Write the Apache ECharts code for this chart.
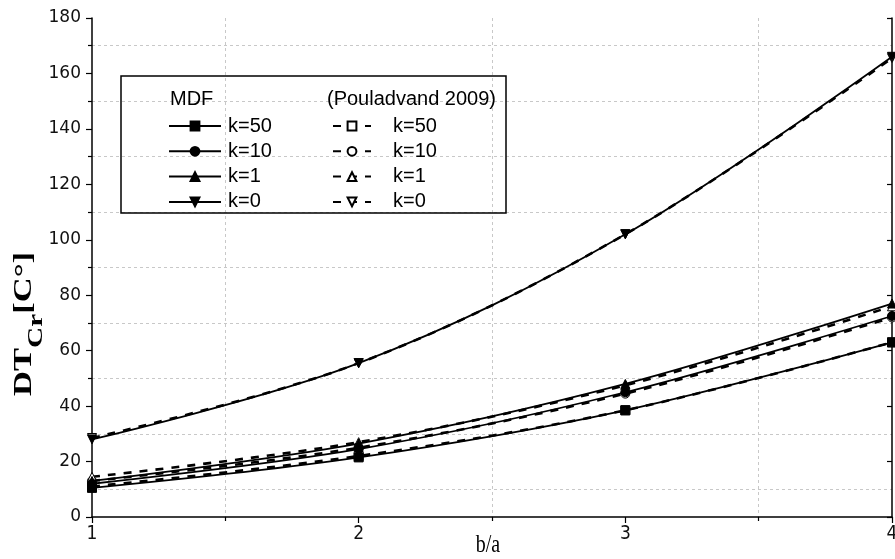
<!DOCTYPE html>
<html>
<head>
<meta charset="utf-8">
<script src="https://cdn.jsdelivr.net/npm/echarts@6/dist/echarts.min.js"></script>
<style>html,body{margin:0;padding:0;background:#fff;}#c{width:895px;height:559px;}</style>
</head>
<body>
<div id="c"></div>
<script>
// ---- data ----
var xValues = [1, 2, 3, 4];
var mdfK50 = [10.5, 21.5, 38.5, 63];
var mdfK10 = [12, 24.5, 45, 72.5];
var mdfK1  = [13, 26.5, 48, 77];
var mdfK0  = [28, 55.5, 102, 166];
var pouK50 = [11, 22, 38.5, 63];
var pouK10 = [13, 25, 44.5, 72];
var pouK1  = [14.5, 27, 47.5, 76];
var pouK0  = [28.5, 55.5, 102, 165.5];
var kLabels = ['k=50', 'k=10', 'k=1', 'k=0'];
var xTicks = [1, 2, 3, 4];
var yTicks = [0, 20, 40, 60, 80, 100, 120, 140, 160, 180];

function pairs(ys) { return xValues.map(function (x, i) { return [x, ys[i]]; }); }

var mdfSets = [mdfK50, mdfK10, mdfK1, mdfK0];
var pouSets = [pouK50, pouK10, pouK1, pouK0];
var symbols = ['rect', 'circle', 'triangle', 'path://M0,0 L10,0 L5,9 Z'];

var series = [];
mdfSets.forEach(function (d, i) {
  series.push({
    name: 'MDF ' + kLabels[i], type: 'line', smooth: 0.35, data: pairs(d),
    symbol: symbols[i], symbolSize: 9, showAllSymbol: true,
    lineStyle: { color: '#000', width: 1.8, type: 'solid' },
    itemStyle: { color: '#000', borderColor: '#000', borderWidth: 1 },
    z: 3
  });
});
pouSets.forEach(function (d, i) {
  series.push({
    name: 'Pou ' + kLabels[i], type: 'line', smooth: 0.35, data: pairs(d),
    symbol: symbols[i], symbolSize: 9, showAllSymbol: true,
    lineStyle: { color: '#000', width: 2.6, type: [8, 8] },
    itemStyle: { color: '#fff', borderColor: '#000', borderWidth: 1 },
    z: 2
  });
});

var legendFont = '"Liberation Sans", Arial, sans-serif';
var chart = echarts.init(document.getElementById('c'));
chart.setOption({
  animation: false,
  backgroundColor: '#fff',
  grid: { left: 92, right: 3, top: 18, bottom: 42, containLabel: false, outerBoundsMode: 'none' },
  xAxis: {
    type: 'value', min: xTicks[0], max: xTicks[xTicks.length - 1], interval: 1,
    axisLine: { show: true, onZero: false, lineStyle: { color: '#000', width: 1.5 } },
    axisTick: { show: true, inside: false, length: 6, lineStyle: { color: '#000', width: 1.2 } },
    minorTick: { show: true, splitNumber: 2, length: 4, lineStyle: { color: '#000', width: 1.2 } },
    splitLine: { show: false },
    minorSplitLine: { show: true, lineStyle: { color: '#c8c8c8', type: [3, 3], width: 1 } },
    axisLabel: { color: '#111', fontSize: 19, fontFamily: '"Liberation Sans Narrow", "DejaVu Sans Condensed", "Liberation Sans", sans-serif', margin: 8 }
  },
  yAxis: [{
    type: 'value', min: yTicks[0], max: yTicks[yTicks.length - 1], interval: 20,
    axisLine: { show: true, onZero: false, lineStyle: { color: '#000', width: 1.5 } },
    axisTick: { show: true, inside: false, length: 6, lineStyle: { color: '#000', width: 1.2 } },
    minorTick: { show: true, splitNumber: 2, length: 4, lineStyle: { color: '#000', width: 1.2 } },
    splitLine: { show: false },
    minorSplitLine: { show: true, lineStyle: { color: '#c8c8c8', type: [3, 3], width: 1 } },
    axisLabel: { color: '#111', fontSize: 17, fontFamily: '"DejaVu Sans", sans-serif', margin: 11 }
  }, {
    type: 'value', position: 'right', min: yTicks[0], max: yTicks[yTicks.length - 1], interval: 20,
    axisLine: { show: true, onZero: false, lineStyle: { color: '#000', width: 1.5 } },
    axisTick: { show: true, inside: true, length: 5, lineStyle: { color: '#000', width: 1.2 } },
    axisLabel: { show: false }, splitLine: { show: false }
  }],
  legend: [{
    left: 163, top: 111, orient: 'vertical', itemWidth: 52, itemHeight: 11, itemGap: 5.3,
    data: kLabels.map(function (k) { return 'MDF ' + k; }),
    formatter: function (n) { return n.split(' ')[1]; },
    textStyle: { color: '#000', fontSize: 20, lineHeight: 20, fontFamily: legendFont, padding: [0, 0, 0, 2] },
    selectedMode: false
  }, {
    left: 327, top: 111, orient: 'vertical', itemWidth: 38, itemHeight: 11, itemGap: 5.3,
    data: kLabels.map(function (k) { return 'Pou ' + k; }),
    formatter: function (n) { return n.split(' ')[1]; },
    textStyle: { color: '#000', fontSize: 20, lineHeight: 20, fontFamily: legendFont, padding: [0, 0, 0, 17] },
    selectedMode: false
  }],
  graphic: [
    { type: 'rect', x: 121, y: 76, shape: { x: 0, y: 0, width: 385, height: 137 }, style: { fill: 'none', stroke: '#000', lineWidth: 1.5 }, z: 10 },
    { type: 'text', x: 170, y: 89, style: { text: 'MDF', fill: '#000', fontSize: 20, fontFamily: legendFont }, z: 10 },
    { type: 'text', x: 327, y: 89, style: { text: '(Pouladvand 2009)', fill: '#000', fontSize: 20, fontFamily: legendFont }, z: 10 },
    { type: 'text', x: 488, y: 545, scaleX: 0.8,
      style: { text: 'b/a', fill: '#000', fontSize: 25, fontFamily: '"Liberation Serif", serif', align: 'center', verticalAlign: 'middle' }, z: 10 },
    { type: 'text', x: 11, y: 396, rotation: Math.PI / 2, scaleX: 1.33,
      style: {
        text: '{a|DT}{b|Cr}{a|[C°]}',
        fill: '#000',
        rich: {
          a: { fontSize: 26, fontWeight: 'bold', fontFamily: '"Liberation Serif", serif', lineHeight: 36, verticalAlign: 'top' },
          b: { fontSize: 22, fontWeight: 'bold', fontFamily: '"Liberation Serif", serif', lineHeight: 36, verticalAlign: 'bottom', padding: [12, 0, 0, 0] }
        }
      }, z: 10 }
  ],
  series: series
});
</script>
</body>
</html>
